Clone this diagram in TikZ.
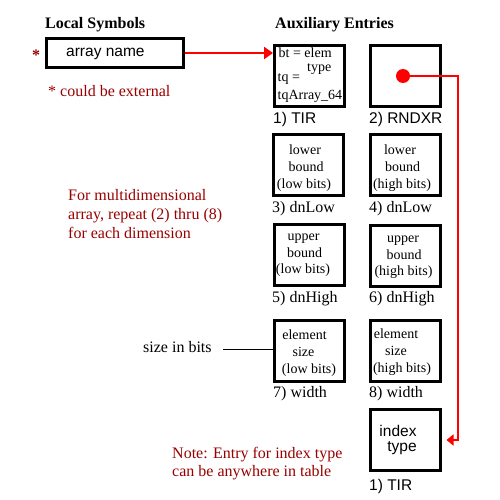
\documentclass[tikz,border=0pt]{standalone}
\usepackage{fontspec}
\setmainfont{Liberation Serif}
\newfontfamily\sansf{Liberation Sans}
\usetikzlibrary{arrows.meta}
\definecolor{dred}{HTML}{990000}
\definecolor{lred}{HTML}{FF0000}
\begin{document}
\begin{tikzpicture}[x=1pt,y=-1pt,
  box/.style={draw, line width=3pt, minimum width=70pt, minimum height=61pt, inner sep=0pt},
  txt/.style={inner sep=0pt, anchor=base, font=\fontsize{14}{17}\selectfont},
  txtl/.style={txt, anchor=base west},
  lbl/.style={inner sep=0pt, anchor=base west, font=\fontsize{16}{19}\selectfont},
  hdr/.style={lbl, font=\fontsize{16}{19}\selectfont\bfseries},
  slbl/.style={inner sep=0pt, anchor=base west, font=\sansf\fontsize{15.5}{18}\selectfont},
  stxt/.style={inner sep=0pt, anchor=base, font=\sansf\fontsize{15.5}{15}\selectfont},
  redtxt/.style={lbl, text=dred},
  redline/.style={draw=lred, line width=2.5pt}]
\useasboundingbox (0,0) rectangle (500,500);
\fill[white] (0,0) rectangle (500,500);

% headings
\node[hdr] (hl) at (45,29) {Local Symbols};
\node[hdr] (ha) at (275,29) {Auxiliary Entries};

% local symbol box
\node[draw, line width=3pt, minimum width=137pt, minimum height=29pt, inner sep=0pt] (arr) at (115,53) {};
\node[slbl, font=\sansf\fontsize{15.5}{18}\selectfont] (arrt) at (66,57) {array name};
\node[inner sep=0pt, anchor=base, text=dred, font=\fontsize{16}{19}\selectfont\bfseries] (st) at (36,61) {*};
\node[redtxt] (ext) at (48,96) {* could be external};

% boxes
\node[box] (b1) at (309.5,76) {};
\node[box] (b2) at (405.5,76) {};
\node[box] (b3) at (308.5,165) {};
\node[box] (b4) at (405,165) {};
\node[box] (b5) at (309,255) {};
\node[box] (b6) at (405.5,256) {};
\node[box] (b7) at (309,350.5) {};
\node[box] (b8) at (405,350.5) {};
\node[box] (b9) at (405,440) {};

% box texts
\node[txtl] (t1a) at (278.5,58) {bt = elem};
\node[txtl] (t1b) at (307,72) {type};
\node[txtl] (t1c) at (277.5,82) {tq =};
\node[txtl] (t1d) at (277.5,100) {tqArray\_64};

\node[txt] (t3a) at (305,154) {lower};
\node[txt] (t3b) at (306,171) {bound};
\node[txt] (t3c) at (304,188) {(low bits)};
\node[txt] (t4a) at (400,154) {lower};
\node[txt] (t4b) at (402.5,171) {bound};
\node[txt] (t4c) at (402,188) {(high bits)};

\node[txt] (t5a) at (303.5,240) {upper};
\node[txt] (t5b) at (304.5,257) {bound};
\node[txt] (t5c) at (303,273) {(low bits)};
\node[txt] (t6a) at (403,242) {upper};
\node[txt] (t6b) at (404,259) {bound};
\node[txt] (t6c) at (403.5,275) {(high bits)};

\node[txt] (t7a) at (304.5,339) {element};
\node[txt] (t7b) at (303.5,356) {size};
\node[txt] (t7c) at (309,373) {(low bits)};
\node[txt] (t8a) at (396,338) {element};
\node[txt] (t8b) at (396,355) {size};
\node[txt] (t8c) at (402,372) {(high bits)};

\node[stxt] (t9a) at (398,436) {index};
\node[stxt] (t9b) at (402,451) {type};

% labels under boxes
\node[slbl] (l1) at (273,124) {1) TIR};
\node[slbl] (l2) at (369,124) {2) RNDXR};
\node[lbl] (l3) at (272,212) {3) dnLow};
\node[lbl] (l4) at (369,212) {4) dnLow};
\node[lbl] (l5) at (272,302) {5) dnHigh};
\node[lbl] (l6) at (369,302) {6) dnHigh};
\node[lbl] (l7) at (273,397) {7) width};
\node[lbl] (l8) at (369,397) {8) width};
\node[slbl] (l9) at (369,490) {1) TIR};

% notes
\node[redtxt] (m1) at (68,200) {For multidimensional};
\node[redtxt] (m2) at (68,219) {array, repeat (2) thru (8)};
\node[redtxt] (m3) at (68,238) {for each dimension};
\node[redtxt] (n1) at (172,458) {Note: Entry for index type};
\node[redtxt] (n2) at (172,476) {can be anywhere in table};

% size in bits
\node[lbl] (sib) at (143,352) {size in bits};
\coordinate (sibl) at (223,349);
\draw[line width=1pt] (sibl) -- (sibl -| b7.west);

% red connectors
\draw[redline, -{Triangle[length=9pt,width=12pt]}] (arr.east) -- (arr.east -| b1.west);
\node[circle, fill=lred, minimum size=14pt, inner sep=0pt] (dot) at (403,76) {};
\coordinate (c1) at (458,76);
\draw[redline, -{Triangle[length=7pt,width=11pt]}] (dot.center) -- (c1) |- ([xshift=5pt]b9.east);
\end{tikzpicture}
\end{document}
